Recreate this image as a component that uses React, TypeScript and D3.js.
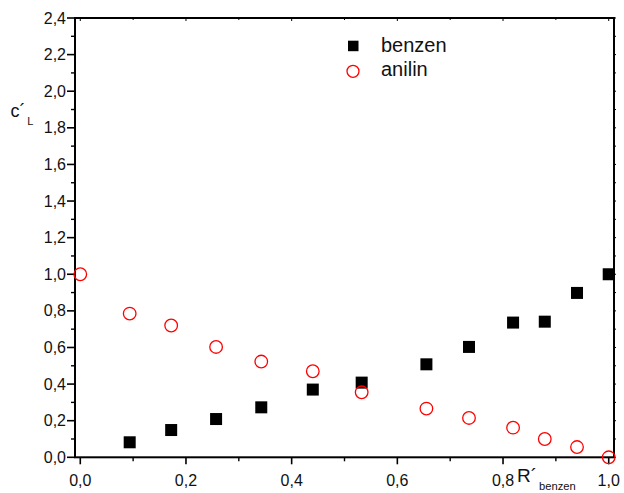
import React from "react";
import * as d3 from "d3";

const benzenX = [0.0935, 0.172, 0.257, 0.3425, 0.44, 0.5325, 0.655, 0.7356, 0.819, 0.879, 0.94, 1.0];
const benzenY = [0.082, 0.149, 0.209, 0.273, 0.37, 0.408, 0.508, 0.603, 0.736, 0.741, 0.898, 1.0];
const anilinX = [0.0, 0.0935, 0.172, 0.257, 0.3425, 0.44, 0.5325, 0.655, 0.7356, 0.819, 0.879, 0.94, 1.0];
const anilinY = [1.0, 0.785, 0.72, 0.603, 0.523, 0.47, 0.355, 0.266, 0.215, 0.162, 0.1, 0.056, 0.0];
const xMajorTicks = [0, 0.2, 0.4, 0.6, 0.8, 1.0];
const xMinorTicks = [0.1, 0.3, 0.5, 0.7, 0.9];
const yMajorTicks = [0, 0.2, 0.4, 0.6, 0.8, 1.0, 1.2, 1.4, 1.6, 1.8, 2.0, 2.2, 2.4];
const yMinorTicks = [0.1, 0.3, 0.5, 0.7, 0.9, 1.1, 1.3, 1.5, 1.7, 1.9, 2.1, 2.3];
const legendLabels = ["benzen", "anilin"];

const W = 624, H = 493;
const L = 75, R = 614, T = 18, B = 457.3;
const font = "'Liberation Sans', Arial, sans-serif";

export default function App() {
  const x = d3.scaleLinear().domain([-0.01, 1.01]).range([L, R]);
  const y = d3.scaleLinear().domain([0, 2.4]).range([B, T]);
  const fmt = (v: number) => d3.format(".1f")(v).replace(".", ",");
  const allY = [...yMajorTicks, ...yMinorTicks];
  return (
    <svg width={W} height={H} style={{ position: "absolute", left: 0, top: 0, background: "#fff" }}>
      <rect x={0} y={0} width={W} height={H} fill="#fff" />
      {xMajorTicks.map((t, i) => (
        <g key={"xm" + i}>
          <line x1={x(t)} x2={x(t)} y1={B} y2={B + 7} stroke="#000" strokeWidth={1.6} />
          <line x1={x(t)} x2={x(t)} y1={T} y2={T + 3} stroke="#000" strokeWidth={1} />
          <text x={x(t)} y={B + 28.5} textAnchor="middle" fontFamily={font} fontSize={16} fill="#111">
            {fmt(t)}
          </text>
        </g>
      ))}
      {xMinorTicks.map((t, i) => (
        <g key={"xn" + i}>
          <line x1={x(t)} x2={x(t)} y1={B} y2={B + 4} stroke="#000" strokeWidth={1.4} />
          <line x1={x(t)} x2={x(t)} y1={T} y2={T + 2} stroke="#000" strokeWidth={1} />
        </g>
      ))}
      {yMajorTicks.map((t, i) => (
        <g key={"ym" + i}>
          <line x1={L - 8} x2={L} y1={y(t)} y2={y(t)} stroke="#000" strokeWidth={1.6} />
          <text x={L - 9} y={y(t) + 5.5} textAnchor="end" fontFamily={font} fontSize={16} fill="#111">
            {fmt(t)}
          </text>
        </g>
      ))}
      {yMinorTicks.map((t, i) => (
        <line key={"yn" + i} x1={L - 4} x2={L} y1={y(t)} y2={y(t)} stroke="#000" strokeWidth={1.4} />
      ))}
      {allY.map((t, i) => (
        <line key={"yr" + i} x1={R} x2={R + 2} y1={y(t)} y2={y(t)} stroke="#000" strokeWidth={1} />
      ))}
      <rect x={L} y={T} width={R - L} height={B - T} fill="none" stroke="#000" strokeWidth={2} />
      {benzenX.map((v, i) => (
        <rect key={"b" + i} x={x(v) - 6} y={y(benzenY[i]) - 6} width={12} height={12} fill="#000" />
      ))}
      {anilinX.map((v, i) => (
        <circle key={"a" + i} cx={x(v)} cy={y(anilinY[i])} r={6.3} fill="none" stroke="#ff0000" strokeWidth={1.3} />
      ))}
      <rect x={348} y={40.7} width={10.5} height={10.5} fill="#000" />
      <text x={381} y={52.3} fontFamily={font} fontSize={20} fill="#111">{legendLabels[0]}</text>
      <circle cx={353} cy={71.3} r={6} fill="none" stroke="#ff0000" strokeWidth={1.3} />
      <text x={381} y={76} fontFamily={font} fontSize={20} fill="#111">{legendLabels[1]}</text>
      <text x={10.5} y={116.7} fontFamily={font} fontSize={18} fill="#111">c´</text>
      <text x={27.3} y={125} fontFamily={font} fontSize={11} fill="#111">L</text>
      <text x={517} y={482} fontFamily={font} fontSize={19} fill="#111">R´</text>
      <text x={539} y={490} fontFamily={font} fontSize={11.2} fill="#111">benzen</text>
    </svg>
  );
}
